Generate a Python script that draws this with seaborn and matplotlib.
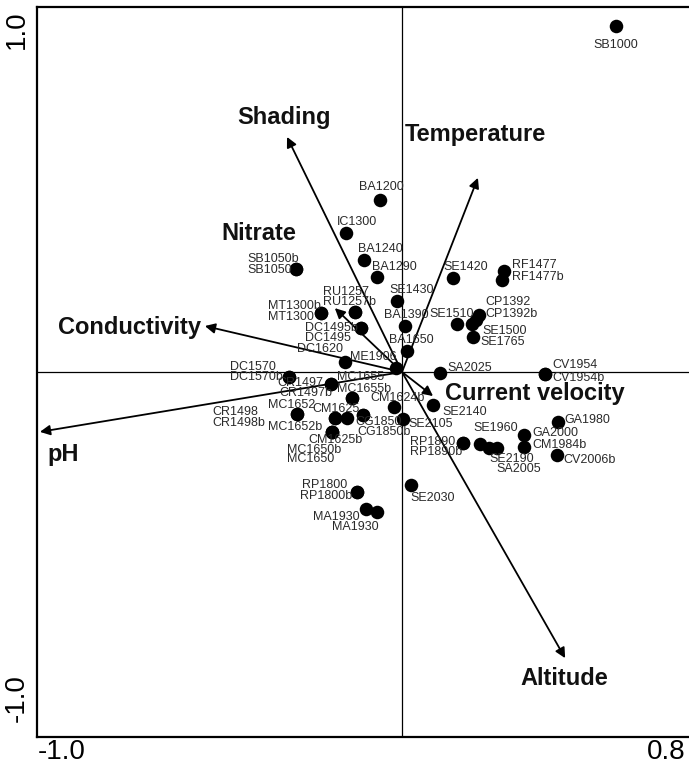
import numpy as np
import pandas as pd
import matplotlib
matplotlib.use("Agg")
import matplotlib.pyplot as plt
import seaborn as sns

sns.set_style("white")
plt.rcParams['font.family'] = ['Liberation Sans', 'DejaVu Sans']

# Sample scores (axis 1, axis 2)
site = ['SB1000', 'BA1200', 'IC1300', 'BA1240', 'BA1290', 'SB1050b', 'SB1050',
        'SE1420', 'RF1477', 'RF1477b', 'SE1430', 'RU1257', 'RU1257b',
        'MT1300b', 'MT1300', 'CP1392', 'CP1392b', 'SE1510', 'SE1500', 'SE1765',
        'DC1495b', 'DC1495', 'BA1390', 'BA1650', 'DC1620', 'ME1906', 'SA2025',
        'CV1954', 'CV1954b', 'DC1570', 'DC1570b', 'CR1497', 'CR1497b',
        'MC1655', 'MC1655b', 'CM1624b', 'SE2105', 'SE2140', 'CR1498', 'CR1498b',
        'MC1652', 'MC1652b', 'CM1625', 'CG1850', 'CG1850b', 'CM1625b',
        'MC1650b', 'MC1650', 'RP1890', 'RP1890b', 'SE1960', 'SE2190', 'SA2005',
        'GA2000', 'CM1984b', 'GA1980', 'CV2006b', 'SE2030', 'RP1800', 'RP1800b',
        'MA1930', 'MA1930']
axis1 = [0.586, -0.060, -0.153, -0.104, -0.068, -0.290, -0.290,
         0.140, 0.279, 0.274, -0.014, -0.129, -0.129,
         -0.222, -0.222, 0.211, 0.203, 0.151, 0.192, 0.195,
         -0.112, -0.112, 0.008, 0.014, -0.156, -0.016, 0.104,
         0.392, 0.392, -0.310, -0.310, -0.195, -0.195,
         -0.137, -0.137, -0.022, 0.003, 0.085, -0.288, -0.288,
         -0.184, -0.184, -0.151, -0.107, -0.107, -0.192,
         -0.192, -0.192, 0.167, 0.167, 0.214, 0.238, 0.260,
         0.334, 0.334, 0.427, 0.425, 0.025, -0.123, -0.123,
         -0.099, -0.068]
axis2 = [0.948, 0.471, 0.381, 0.307, 0.260, 0.282, 0.282,
         0.258, 0.277, 0.252, 0.195, 0.164, 0.164,
         0.162, 0.162, 0.156, 0.142, 0.132, 0.132, 0.096,
         0.121, 0.121, 0.126, 0.058, 0.027, 0.011, -0.003,
         -0.005, -0.005, -0.014, -0.014, -0.033, -0.033,
         -0.071, -0.071, -0.096, -0.129, -0.090, -0.115, -0.115,
         -0.126, -0.126, -0.126, -0.118, -0.118, -0.164,
         -0.164, -0.164, -0.195, -0.195, -0.197, -0.208, -0.208,
         -0.173, -0.205, -0.137, -0.227, -0.310, -0.329, -0.329,
         -0.375, -0.384]

# label placement relative to each point (pixels, left edge / vertical centre)
label_dx = [-22, -21, -9, -6, -5, -49, -49,
            -10, 8, 10, -7, -32, -32,
            -53, -53, 6, 9, -28, 10, 7,
            -56, -56, -21, -18, -48, -46, 7,
            7, 7, -59, -59, -53, -51,
            -15, -15, -24, 5, 9, -85, -85,
            -67, -67, -35, -8, -6, -24,
            -45, -45, -53, -53, -7, 1, 0,
            8, 8, 7, 6, -1, -55, -57,
            -53, -45]
label_dy = [-19, 13, 11, 11, 10, 10, -1,
            11, 6, 3, 11, 20, 10,
            7, -4, 13, 6, 10, -7, -5,
            0, -10, 11, 11, 13, 11, 5,
            9, -4, 10, 0, 1, -9,
            21, 9, 9, -5, -7, 2, -9,
            13, -9, 9, -7, -17, -8,
            -18, -27, 1, -9, 16, -11, -21,
            2, 2, 2, -5, -13, 7, -4,
            -8, -15]

# Environmental variable arrows
env_var = ['Shading', 'Temperature', 'Nitrate', 'Conductivity', 'pH',
           'Current velocity', 'Altitude']
env_x = [-0.315, 0.208, -0.184, -0.540, -0.992, 0.085, 0.447]
env_y = [0.644, 0.532, 0.175, 0.126, -0.164, -0.066, -0.784]
env_dx = [-50, -73, -113, -147, 8, 12, -45]
env_dy = [19, 43, 75, -1, -23, 3, -20]

df = pd.DataFrame({'site': site, 'axis1': axis1, 'axis2': axis2})

fig = plt.figure(figsize=(6.89, 7.65), dpi=100)
ax = fig.add_axes([37 / 689, 28 / 765, 657 / 689, 730 / 765])

ax.axhline(0, color='black', lw=0.9, zorder=1)
ax.axvline(0, color='black', lw=0.9, zorder=1)

for name, ex, ey, dx, dy in zip(env_var, env_x, env_y, env_dx, env_dy):
    ax.annotate('', xy=(ex, ey), xytext=(0, 0),
                arrowprops=dict(arrowstyle='-|>', color='black', lw=1.3,
                                mutation_scale=15, shrinkA=0, shrinkB=0),
                zorder=2)
    ax.annotate(name, xy=(ex, ey), xytext=(dx, dy), textcoords='offset pixels',
                ha='left', va='center', fontsize=17, fontweight='bold',
                color='#111111', zorder=4)

sns.scatterplot(data=df, x='axis1', y='axis2', ax=ax, s=95, color='black',
                edgecolor='black', linewidth=0, zorder=3, legend=False)

for name, sx, sy, dx, dy in zip(site, axis1, axis2, label_dx, label_dy):
    ax.annotate(name, xy=(sx, sy), xytext=(dx, dy), textcoords='offset pixels',
                ha='left', va='center', fontsize=9, color='#2a2a2a', zorder=5)

ax.set_xlim(-1.0, 0.8)
ax.set_ylim(-1.0, 1.0)

# ticks every 0.2 on x, at +-0.5 on y; only the range ends are labelled
ax.set_xticks(np.round(np.arange(-1.0, 0.81, 0.2), 1))
ax.set_yticks([-1.0, -0.5, 0.5, 1.0])
ax.set_xticklabels([])
ax.set_yticklabels([])
ax.tick_params(direction='in', length=5, width=1, colors='black')
ax.set_xlabel('')
ax.set_ylabel('')

tick_font = dict(fontsize=20, color='black')
ax.annotate('-1.0', xy=(-1.0, 0), xycoords=('data', 'axes fraction'),
            xytext=(1, -22), textcoords='offset pixels',
            ha='left', va='baseline', **tick_font)
ax.annotate('0.8', xy=(0.8, 0), xycoords=('data', 'axes fraction'),
            xytext=(-8, -22), textcoords='offset pixels',
            ha='right', va='baseline', **tick_font)
ax.annotate('1.0', xy=(0, 1.0), xycoords=('axes fraction', 'data'),
            xytext=(-7, -3), textcoords='offset pixels',
            ha='right', va='top', rotation=90, **tick_font)
ax.annotate('-1.0', xy=(0, -1.0), xycoords=('axes fraction', 'data'),
            xytext=(-7, 15), textcoords='offset pixels',
            ha='right', va='bottom', rotation=90, **tick_font)

for s in ax.spines.values():
    s.set_linewidth(1.6)
    s.set_color('black')

fig.savefig('out.png', dpi=100)
